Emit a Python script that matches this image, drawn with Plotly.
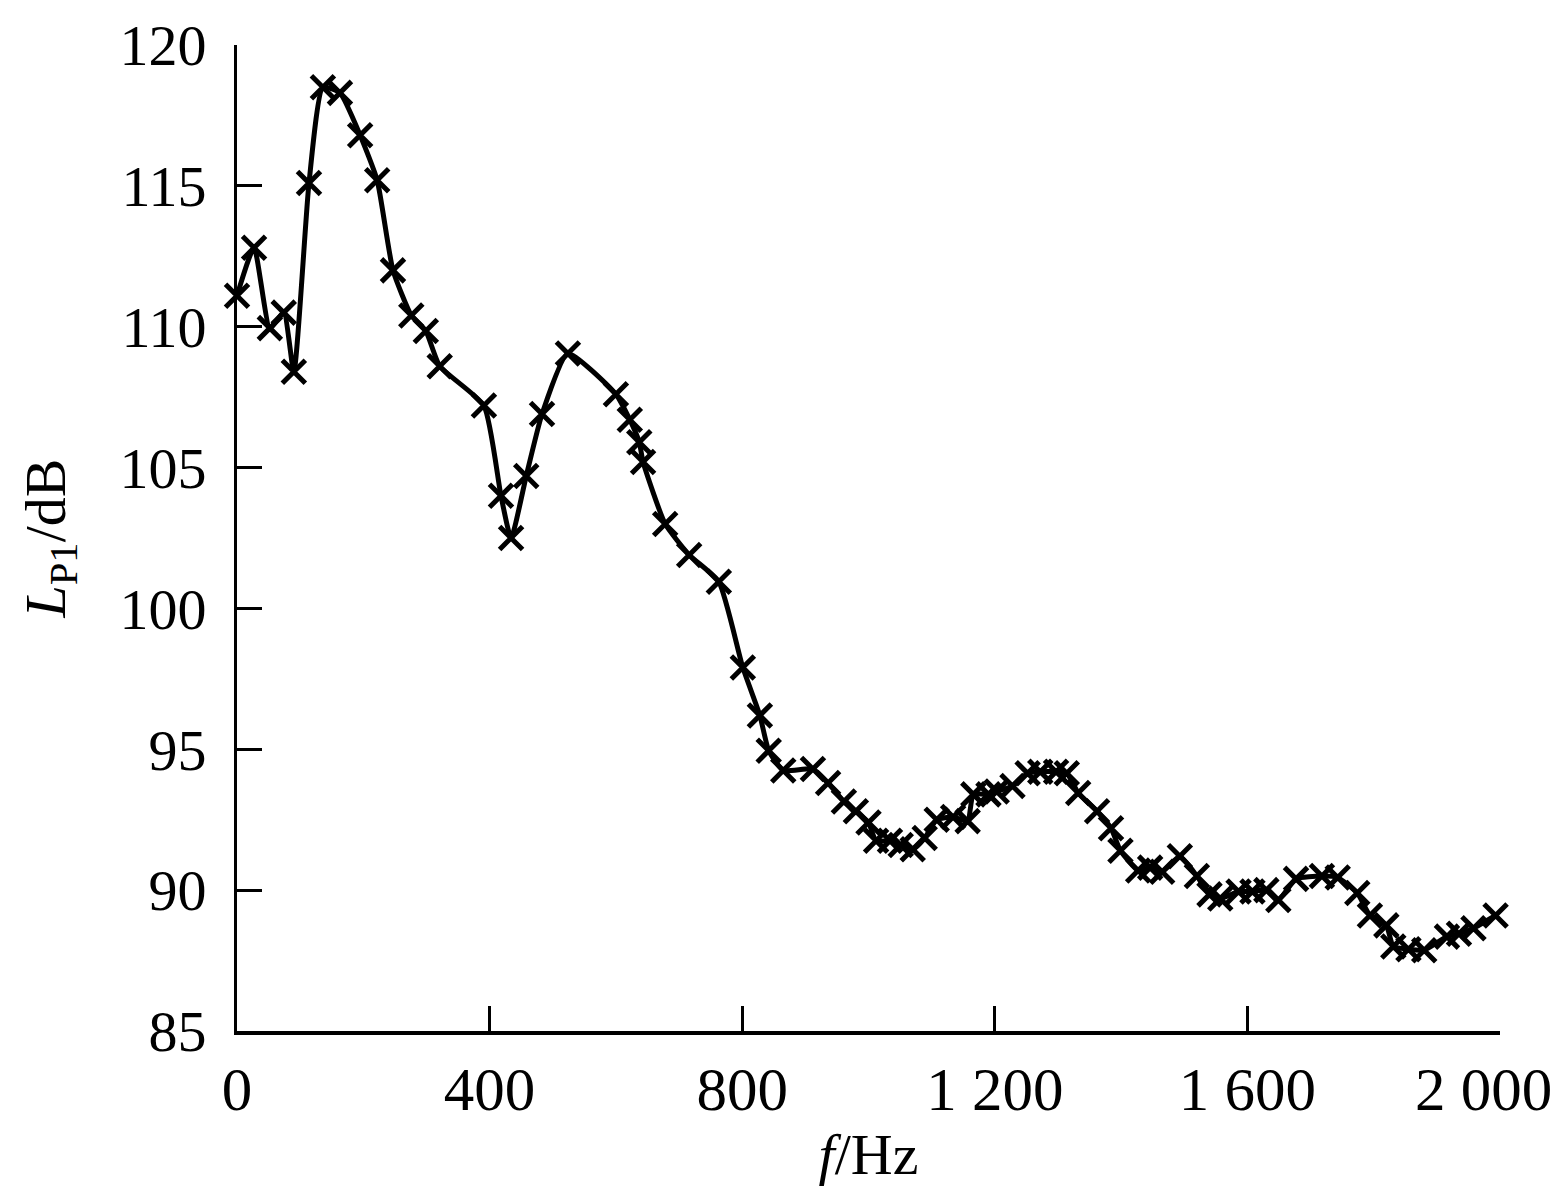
import plotly.graph_objects as go

freq_hz = [0, 27, 52, 74, 90, 114, 136, 163, 195, 222, 247, 276, 299, 321, 391, 418, 434, 458, 483, 524,
           600, 622, 637, 643, 678, 716, 763, 801, 828, 842, 865, 912, 936, 961, 980, 1000, 1012, 1034,
           1051, 1070, 1089, 1108, 1134, 1157, 1166, 1190, 1203, 1228, 1252, 1272, 1297, 1314, 1332,
           1362, 1384, 1399, 1427, 1446, 1465, 1493, 1520, 1540, 1557, 1586, 1608, 1630, 1649, 1677,
           1718, 1743, 1774, 1794, 1820, 1831, 1855, 1880, 1916, 1935, 1958, 1993]
level_db = [111.1, 112.8, 109.95, 110.5, 108.4, 115.1, 118.5, 118.3, 116.8, 115.2, 112.0, 110.4, 109.85,
            108.6, 107.2, 104.0, 102.5, 104.7, 106.9, 109.05, 107.6, 106.7, 105.9, 105.2, 103.0, 101.9,
            100.95, 97.9, 96.2, 94.95, 94.25, 94.3, 93.8, 93.15, 92.8, 92.4, 91.75, 91.75, 91.6, 91.45,
            91.85, 92.5, 92.6, 92.45, 93.4, 93.4, 93.5, 93.7, 94.15, 94.2, 94.2, 94.15, 93.45, 92.8,
            92.2, 91.4, 90.7, 90.8, 90.65, 91.2, 90.5, 89.85, 89.7, 89.95, 89.95, 90.0, 89.65, 90.4,
            90.5, 90.45, 89.9, 89.1, 88.75, 88.0, 87.9, 87.87, 88.35, 88.45, 88.65, 89.1]

x_tickvals = [0, 400, 800, 1200, 1600, 2000]
x_ticktext = ["0", "400", "800", "1 200", "1 600", ""]
last_x_label = "2 000"
y_tickvals = [85, 90, 95, 100, 105, 110, 115, 120]

FONT = "Liberation Serif, Times New Roman, serif"

fig = go.Figure()
fig.add_trace(go.Scatter(
    x=freq_hz, y=level_db, mode="lines+markers",
    line=dict(color="black", width=5, shape="spline", smoothing=0.5),
    marker=dict(symbol="x-thin-open", size=23, line=dict(color="black", width=5), color="black"),
    cliponaxis=False, showlegend=False,
))

fig.update_layout(
    width=1562, height=1200,
    margin=dict(l=237, r=62, t=45, b=169, autoexpand=False),
    paper_bgcolor="white", plot_bgcolor="white",
    font=dict(family=FONT, size=58, color="black"),
)
fig.update_xaxes(
    range=[0, 2000], tickvals=x_tickvals, ticktext=x_ticktext, automargin=False,
    ticks="inside", ticklen=25, tickwidth=3, tickcolor="black",
    showline=True, linecolor="black", linewidth=4, showgrid=False, zeroline=False,
    ticklabelstandoff=2, tickfont=dict(size=61),
    title=dict(text="<i>f</i>/Hz", standoff=12, font=dict(size=58)),
)
fig.update_yaxes(
    range=[85, 120], tickvals=y_tickvals, automargin=False,
    ticks="inside", ticklen=25, tickwidth=3, tickcolor="black",
    showline=True, linecolor="black", linewidth=3, showgrid=False, zeroline=False,
    ticklabelstandoff=16,
    title=dict(text="<i>L</i><sub>P1</sub>/dB", standoff=36, font=dict(size=58)),
)

# last tick label placed so it stays inside the canvas (as in the reference)
fig.add_annotation(
    x=x_tickvals[-1], xref="x", y=0, yref="paper",
    text=last_x_label, showarrow=False,
    xanchor="right", yanchor="top", xshift=54, yshift=-23,
    font=dict(family=FONT, size=61, color="black"),
)

fig.write_html(
    "out.html",
    config={"displayModeBar": False},
    post_script="document.body.style.margin='0';document.body.style.overflow='hidden';",
)
